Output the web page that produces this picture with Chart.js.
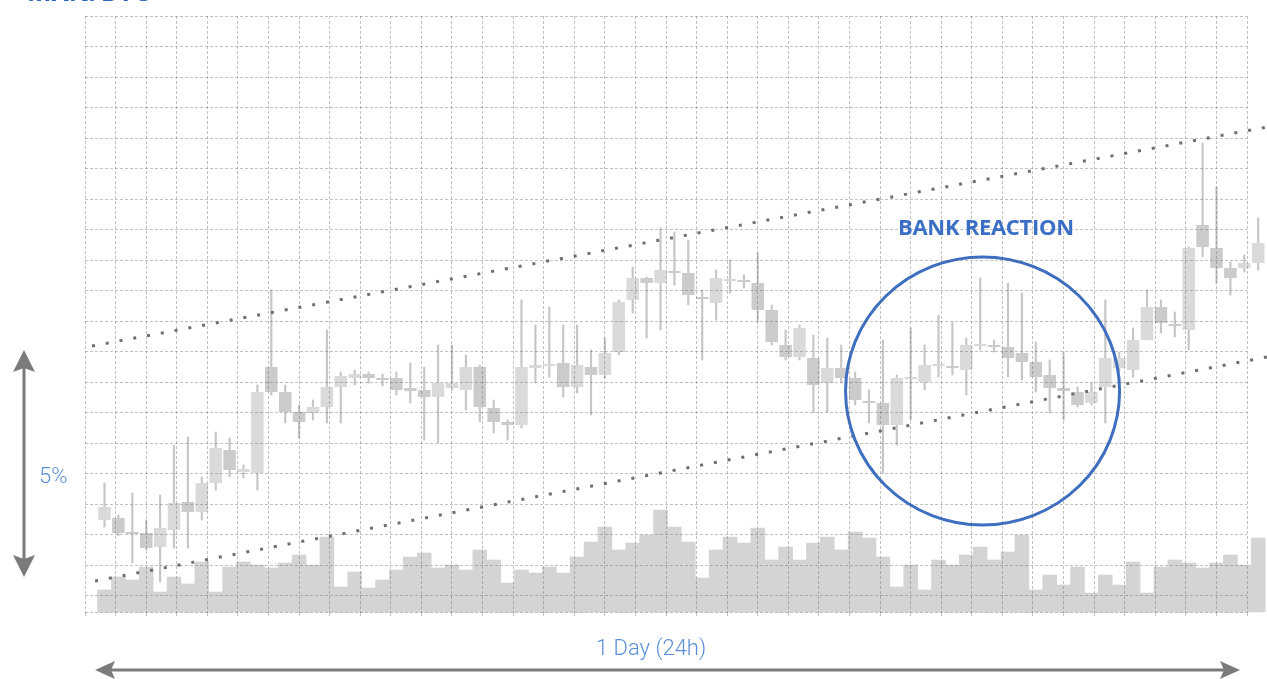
<!DOCTYPE html>
<html>
<head>
<meta charset="utf-8">
<script src="https://cdn.jsdelivr.net/npm/chart.js@4.4.0/dist/chart.umd.min.js"></script>
<style>
  html, body { margin: 0; padding: 0; background: #fff; }
  #wrap { position: relative; width: 1267px; height: 679px; overflow: hidden; }
  #chart { position: absolute; left: 0; top: 0; }
  .lbl { position: absolute; white-space: nowrap; line-height: 1; }
  #title { left: 27px; top: -27px; font: bold 26px "Open Sans"; color: #2f64c2; }
  #bank { left: 898px; top: 211px; font: bold 22px "Open Sans"; color: #3b6fc6; letter-spacing: -0.3px; }
  #pct { left: 39px; top: 463px; font: 300 22px Roboto; color: #5a8fd8; }
  #day { left: 596px; top: 635px; font: 300 22px Roboto; color: #5a8fd8; }
</style>
</head>
<body>
<div id="wrap">
  <canvas id="chart" width="1267" height="679"></canvas>
  <div class="lbl" id="title">MXN/BTC</div>
  <div class="lbl" id="bank">BANK REACTION</div>
  <div class="lbl" id="pct">5%</div>
  <div class="lbl" id="day">1 Day (24h)</div>
</div>
<script>
// price index per candle (one candle every ~17 minutes)
const open  = [92, 94, 80, 79, 65, 82, 110, 100, 129, 162, 140, 139, 245, 220, 200, 199, 205, 225, 234, 238,
               234, 234, 224, 222, 215, 224, 222, 245, 204, 190, 187, 244, 246, 249, 225, 245, 237, 260, 312, 334,
               329, 341, 339, 315, 309, 331, 332, 329, 302, 267, 255, 254, 229, 244, 234, 211, 209, 187, 233, 230,
               246, 246, 242, 266, 267, 265, 259, 250, 237, 224, 220, 209, 225, 244, 242, 272, 305, 288, 282, 387,
               364, 344, 344, 349];
const close = [105, 79, 78, 64, 84, 109, 100, 129, 164, 142, 143, 220, 220, 200, 190, 205, 225, 236, 238, 234,
               232, 222, 221, 215, 229, 229, 245, 205, 190, 187, 245, 247, 248, 225, 247, 237, 259, 310, 334, 329,
               342, 339, 317, 313, 334, 333, 330, 302, 270, 255, 284, 227, 244, 234, 212, 209, 187, 234, 235, 247,
               248, 244, 267, 268, 265, 254, 250, 235, 224, 221, 207, 220, 254, 254, 272, 305, 289, 286, 364, 365,
               344, 334, 349, 369];
const high  = [129, 97, 119, 92, 117, 167, 175, 135, 180, 174, 147, 227, 322, 227, 207, 212, 282, 240, 242, 240,
               238, 240, 249, 245, 267, 267, 257, 247, 212, 192, 312, 287, 305, 287, 287, 262, 274, 312, 345, 335,
               384, 380, 372, 322, 342, 352, 337, 359, 307, 282, 287, 277, 274, 267, 240, 222, 272, 237, 284, 267,
               297, 290, 274, 334, 272, 329, 319, 270, 252, 259, 225, 229, 312, 260, 284, 322, 312, 300, 365, 469,
               425, 350, 357, 394];
const low   = [85, 76, 49, 62, 30, 64, 64, 92, 122, 135, 134, 122, 217, 189, 174, 192, 189, 189, 227, 229,
               226, 217, 209, 172, 169, 222, 202, 190, 179, 172, 184, 229, 235, 215, 219, 197, 234, 257, 299, 274,
               282, 327, 307, 252, 292, 319, 324, 290, 267, 252, 252, 199, 200, 229, 207, 189, 139, 167, 192, 222,
               235, 237, 217, 262, 260, 235, 232, 220, 199, 192, 205, 207, 189, 240, 235, 272, 279, 275, 262, 355,
               329, 317, 340, 342];
const volume = [22, 35, 32, 45, 20, 35, 28, 50, 20, 45, 50, 47, 44, 49, 57, 47, 75, 25, 40, 24,
                32, 42, 55, 59, 44, 47, 42, 62, 52, 29, 42, 39, 45, 39, 55, 70, 85, 62, 69, 77,
                102, 85, 70, 34, 62, 75, 69, 84, 52, 65, 52, 69, 75, 62, 80, 74, 55, 25, 47, 22,
                52, 47, 57, 65, 52, 60, 77, 22, 37, 27, 45, 19, 37, 27, 50, 19, 45, 52, 49, 44,
                49, 57, 47, 74];
// channel lines: [candle index, price]
const upperTrend = [[-0.9, 266], [83.63, 485]];
const lowerTrend = [[-0.68, 31], [83.63, 255]];
// grid divisions
const gridCols = Array.from({length: 38}, (_, i) => i);
const gridRows = Array.from({length: 20}, (_, i) => i).concat([19.54]);

const bankReaction = {x: 63.17, y: 221};

const upColor = '#dadada';
const downColor = '#cbcbcb';

const bodyData = open.map((o, i) => ({x: i, y: [o, close[i]]}));
const wickData = low.map((l, i) => ({x: i, y: [l, high[i]]}));
const volData = volume.map((v, i) => ({x: i, y: v}));
const bodyColors = open.map((o, i) => close[i] >= o ? upColor : downColor);

function arrow(ctx, x1, y1, x2, y2, len, half) {
    const a = Math.atan2(y2 - y1, x2 - x1);
    const cos = Math.cos(a), sin = Math.sin(a);
    ctx.beginPath();
    ctx.moveTo(x1 + cos * len * 0.8, y1 + sin * len * 0.8);
    ctx.lineTo(x2 - cos * len * 0.8, y2 - sin * len * 0.8);
    ctx.stroke();
    [[x1, y1, 1], [x2, y2, -1]].forEach(([x, y, d]) => {
        const bx = x + d * cos * len, by = y + d * sin * len;
        ctx.beginPath();
        ctx.moveTo(x, y);
        ctx.lineTo(bx - sin * half, by + cos * half);
        ctx.lineTo(bx - d * cos * 4, by - d * sin * 4);
        ctx.lineTo(bx + sin * half, by - cos * half);
        ctx.closePath();
        ctx.fill();
    });
}

const annotations = {
    id: 'annotations',
    afterDatasetsDraw(chart) {
        const {ctx, scales} = chart;
        ctx.save();
        // bank reaction circle
        const cx = scales.x.getPixelForValue(bankReaction.x);
        const cy = scales.y.getPixelForValue(bankReaction.y);
        ctx.strokeStyle = '#3d6ec0';
        ctx.lineWidth = 3;
        ctx.beginPath();
        ctx.ellipse(cx, cy, 137, 134, 0, 0, Math.PI * 2);
        ctx.stroke();
        // range arrows
        ctx.strokeStyle = '#7b7b7b';
        ctx.fillStyle = '#7b7b7b';
        ctx.lineWidth = 3;
        arrow(ctx, 24, 350, 24, 577, 22, 11);
        arrow(ctx, 95, 670, 1240, 670, 20, 9);
        ctx.restore();
    }
};

const gridStyle = {
    color: 'rgba(95, 95, 95, 0.38)',
    lineWidth: 1,
    z: 1
};

new Chart(document.getElementById('chart'), {
    type: 'bar',
    data: {
        datasets: [
            {
                type: 'line',
                data: upperTrend.map(p => ({x: p[0], y: p[1]})),
                borderColor: '#6f6f6f',
                borderWidth: 3,
                borderDash: [3, 11],
                pointRadius: 0,
                clip: false,
                order: 1
            },
            {
                type: 'line',
                data: lowerTrend.map(p => ({x: p[0], y: p[1]})),
                borderColor: '#6f6f6f',
                borderWidth: 3,
                borderDash: [3, 11],
                pointRadius: 0,
                clip: false,
                order: 1
            },
            {
                data: bodyData,
                backgroundColor: bodyColors,
                grouped: false,
                barPercentage: 0.9,
                categoryPercentage: 1,
                clip: false,
                order: 2
            },
            {
                data: wickData,
                backgroundColor: '#c6c6c6',
                grouped: false,
                barThickness: 1.5,
                clip: false,
                order: 3
            },
            {
                data: volData,
                yAxisID: 'yv',
                backgroundColor: '#d4d4d4',
                grouped: false,
                barPercentage: 1,
                categoryPercentage: 1,
                clip: false,
                order: 4
            }
        ]
    },
    options: {
        responsive: false,
        animation: false,
        devicePixelRatio: 1,
        layout: { padding: { left: 85, right: 20, top: 16, bottom: 63 } },
        plugins: { legend: { display: false }, tooltip: { enabled: false } },
        scales: {
            x: { type: 'linear', display: false, offset: false, min: -1.403, max: 82.194 },
            y: { display: false, min: 0, max: 596 },
            yv: { display: false, min: 0, max: 596 },
            gx: {
                type: 'linear', position: 'bottom', min: 0, max: 37,
                afterBuildTicks: s => { s.ticks = gridCols.map(v => ({value: v})); },
                ticks: { display: false },
                grid: Object.assign({ drawTicks: true, tickLength: 4 }, gridStyle),
                border: { display: false, dash: [3, 2] }
            },
            gy: {
                type: 'linear', position: 'left', min: 0, max: 19.54, reverse: true,
                afterBuildTicks: s => { s.ticks = gridRows.map(v => ({value: v})); },
                ticks: { display: false },
                grid: Object.assign({ drawTicks: false }, gridStyle),
                border: { display: false, dash: [3, 2] }
            }
        }
    },
    plugins: [annotations]
});
</script>
</body>
</html>
